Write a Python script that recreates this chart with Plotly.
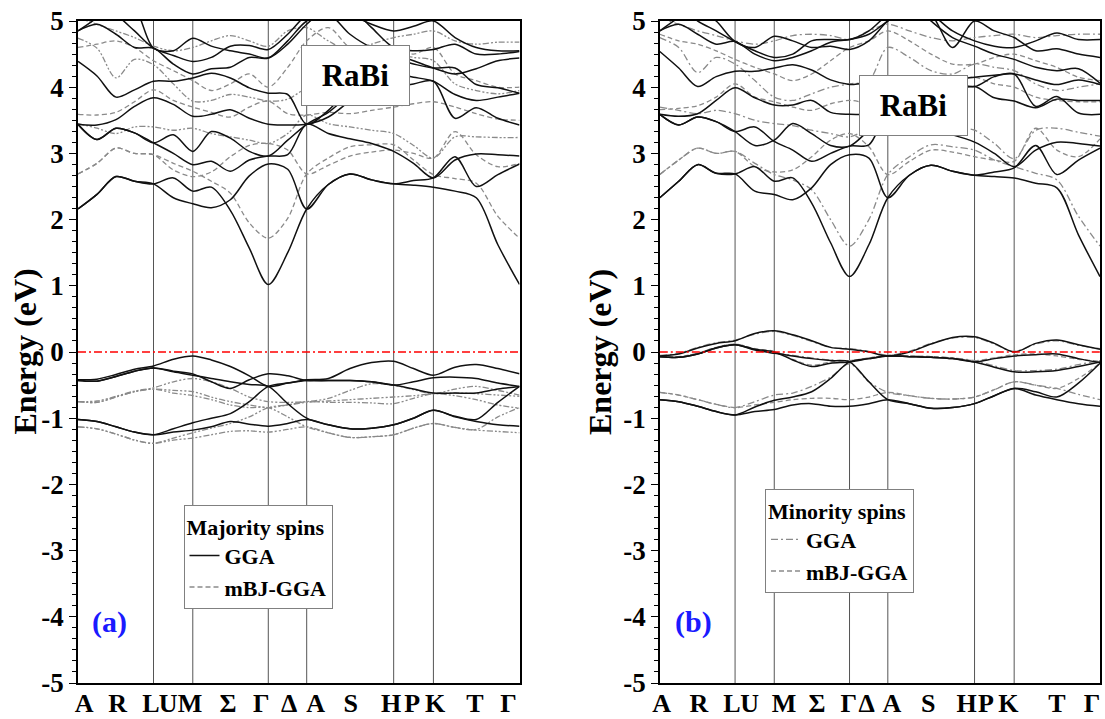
import plotly.graph_objects as go

SERIF = "Liberation Serif, Times New Roman, serif"

# ---------------- data ----------------
# k-path node positions (fraction of total path length)
k_nodes = [0.000, 0.043, 0.086, 0.128, 0.171, 0.216, 0.260, 0.302, 0.345, 0.388,
           0.431, 0.475, 0.518, 0.567, 0.616, 0.665, 0.715, 0.760, 0.805, 0.854,
           0.902, 0.951, 1.000]
# high-symmetry points drawn as vertical lines: L, M, Gamma, A, H, K
sym_points = [0.171, 0.260, 0.431, 0.518, 0.715, 0.805]

kpoint_labels = ["A", "R", "L", "U", "M", "Σ", "Γ", "Δ", "A", "S", "H", "P", "K", "T", "Γ"]
label_pos_a = [0.014, 0.090, 0.165, 0.204, 0.254, 0.340, 0.415, 0.478, 0.538,
               0.618, 0.709, 0.757, 0.809, 0.899, 0.975]
label_pos_b = [0.004, 0.089, 0.164, 0.204, 0.282, 0.357, 0.429, 0.470, 0.527,
               0.610, 0.697, 0.741, 0.792, 0.902, 0.982]

energy_ticks = [5, 4, 3, 2, 1, 0, -1, -2, -3, -4, -5]
energy_ticktext = ["5", "4", "3", "2", "1", "0", "-1", "-2", "-3", "-4", "-5"]

# (a) majority spins, GGA (black solid)
maj_gga_valence = [
    [-0.42, -0.41, -0.34, -0.26, -0.21, -0.11, -0.06, -0.12, -0.22, -0.36, -0.52, -0.47, -0.42, -0.40, -0.25, -0.16, -0.14, -0.25, -0.35, -0.23, -0.19, -0.25, -0.33],
    [-0.43, -0.44, -0.37, -0.29, -0.24, -0.29, -0.33, -0.45, -0.55, -0.42, -0.33, -0.36, -0.43, -0.43, -0.43, -0.45, -0.50, -0.45, -0.39, -0.38, -0.40, -0.47, -0.52],
    [-0.43, -0.44, -0.37, -0.29, -0.24, -0.30, -0.35, -0.40, -0.45, -0.49, -0.52, -0.78, -1.00, -1.10, -1.16, -1.15, -1.10, -1.00, -0.88, -0.97, -1.02, -0.76, -0.52],
    [-1.02, -1.05, -1.13, -1.21, -1.25, -1.21, -1.18, -1.13, -1.05, -1.09, -1.12, -1.08, -1.02, -1.10, -1.16, -1.15, -1.10, -1.00, -0.88, -0.98, -1.05, -1.10, -1.12],
    [-1.02, -1.05, -1.13, -1.21, -1.25, -1.16, -1.07, -1.00, -0.93, -0.75, -0.52, -0.47, -0.43, -0.43, -0.43, -0.45, -0.50, -0.56, -0.62, -0.62, -0.62, -0.56, -0.52],
]
maj_gga_conduction = [
    [2.16, 2.38, 2.65, 2.58, 2.54, 2.33, 2.24, 2.18, 2.30, 2.66, 2.84, 2.76, 2.16, 2.53, 2.69, 2.60, 2.54, 2.52, 2.49, 2.43, 2.33, 1.62, 1.02],
    [2.16, 2.38, 2.65, 2.58, 2.54, 2.63, 2.43, 2.49, 2.14, 1.57, 1.02, 1.50, 2.16, 2.53, 2.69, 2.60, 2.54, 2.59, 2.63, 2.95, 2.50, 2.68, 2.84],
    [3.44, 3.21, 3.38, 3.31, 3.16, 3.00, 2.83, 2.88, 2.73, 2.90, 2.96, 2.98, 3.44, 3.30, 3.22, 3.15, 3.03, 2.85, 2.63, 2.90, 2.99, 2.98, 2.96],
    [3.44, 3.21, 3.38, 3.31, 3.16, 3.28, 3.03, 3.33, 3.23, 3.03, 2.96, 3.20, 3.44, 3.62, 3.88, 4.00, 4.00, 4.05, 4.09, 3.53, 3.69, 3.53, 3.43],
    [4.39, 4.17, 3.85, 3.96, 4.09, 4.09, 4.14, 4.21, 4.14, 3.99, 3.91, 3.89, 3.44, 3.65, 4.00, 4.30, 4.43, 4.35, 4.29, 4.29, 4.04, 3.99, 3.91],
    [3.44, 3.43, 3.51, 3.71, 3.84, 3.74, 3.56, 3.59, 3.66, 3.53, 3.44, 3.43, 3.44, 3.55, 3.80, 4.10, 4.20, 4.15, 4.09, 3.89, 3.80, 3.85, 3.91],
    [4.85, 5.05, 5.30, 5.20, 4.59, 4.55, 4.74, 4.62, 4.55, 4.50, 4.44, 4.65, 4.95, 5.20, 5.10, 4.95, 4.85, 4.92, 5.00, 4.75, 4.60, 4.55, 4.55],
    [5.30, 5.30, 5.10, 4.85, 4.59, 4.48, 4.39, 4.45, 4.62, 4.63, 4.57, 4.80, 5.10, 5.30, 5.20, 4.90, 4.60, 4.55, 4.57, 4.65, 4.50, 4.50, 4.54],
    [4.85, 4.95, 4.80, 4.60, 4.59, 4.35, 4.20, 4.28, 4.30, 4.45, 4.44, 4.70, 5.00, 5.10, 4.80, 4.60, 4.50, 4.40, 4.29, 4.20, 4.28, 4.40, 4.44],
]
# (a) majority spins, mBJ-GGA (grey)
maj_mbj_valence = [
    [-0.75, -0.74, -0.67, -0.59, -0.54, -0.45, -0.40, -0.45, -0.55, -0.68, -0.75, -0.76, -0.75, -0.70, -0.58, -0.48, -0.50, -0.57, -0.63, -0.56, -0.52, -0.58, -0.65],
    [-0.75, -0.76, -0.68, -0.60, -0.56, -0.58, -0.60, -0.68, -0.75, -0.80, -0.84, -0.80, -0.75, -0.76, -0.76, -0.77, -0.78, -0.70, -0.63, -0.66, -0.72, -0.80, -0.85],
    [-0.75, -0.76, -0.68, -0.60, -0.56, -0.62, -0.66, -0.72, -0.80, -0.84, -0.84, -0.98, -1.13, -1.22, -1.29, -1.28, -1.25, -1.15, -1.08, -1.14, -1.17, -0.98, -0.84],
    [-1.13, -1.16, -1.24, -1.33, -1.38, -1.33, -1.30, -1.25, -1.20, -1.19, -1.21, -1.17, -1.13, -1.22, -1.29, -1.28, -1.25, -1.15, -1.08, -1.14, -1.18, -1.20, -1.22],
    [-1.13, -1.16, -1.24, -1.33, -1.38, -1.30, -1.22, -1.15, -1.08, -0.98, -0.84, -0.80, -0.76, -0.74, -0.72, -0.70, -0.68, -0.66, -0.63, -0.62, -0.63, -0.65, -0.67],
]
maj_mbj_conduction = [
    [2.69, 2.85, 3.08, 3.00, 2.98, 2.85, 2.73, 2.58, 2.40, 1.95, 1.72, 2.02, 2.69, 2.93, 3.10, 3.13, 3.13, 2.90, 2.68, 2.62, 2.55, 2.05, 1.72],
    [2.69, 2.85, 3.08, 3.00, 2.98, 2.75, 2.65, 2.72, 2.95, 3.12, 3.15, 3.05, 2.69, 2.82, 2.96, 3.02, 3.05, 3.00, 2.93, 3.33, 2.98, 2.80, 2.85],
    [3.45, 3.38, 3.30, 3.40, 3.40, 3.35, 3.38, 3.30, 3.25, 3.20, 3.15, 3.30, 3.58, 3.45, 3.40, 3.35, 3.30, 3.12, 2.93, 3.25, 3.25, 3.24, 3.24],
    [3.59, 3.58, 3.62, 3.78, 3.96, 3.80, 3.70, 3.62, 3.55, 3.70, 3.79, 3.60, 3.58, 3.62, 3.60, 3.65, 3.70, 3.75, 3.78, 3.70, 3.60, 3.52, 3.50],
    [4.74, 4.59, 4.14, 4.42, 4.34, 4.05, 3.79, 3.80, 3.89, 3.85, 3.79, 3.82, 4.00, 4.20, 4.30, 4.40, 4.50, 4.45, 4.40, 4.05, 3.95, 3.90, 3.95],
    [4.60, 4.65, 4.70, 4.60, 4.40, 4.25, 4.10, 3.95, 4.05, 4.20, 4.00, 4.30, 4.70, 4.90, 4.60, 4.55, 4.60, 4.50, 4.60, 4.20, 4.10, 4.00, 4.00],
    [5.05, 4.95, 4.85, 4.75, 4.62, 4.55, 4.60, 4.70, 4.78, 4.70, 4.62, 4.85, 4.90, 4.70, 4.55, 4.65, 4.75, 4.80, 4.85, 4.70, 4.65, 4.68, 4.68],
]

# (b) minority spins, solid black bands
min_solid_valence = [
    [-0.06, -0.03, 0.06, 0.13, 0.17, 0.28, 0.32, 0.26, 0.17, 0.07, 0.04, 0.00, -0.06, 0.00, 0.12, 0.22, 0.23, 0.13, 0.00, 0.13, 0.18, 0.11, 0.04],
    [-0.07, -0.08, -0.03, 0.06, 0.11, 0.04, 0.00, -0.12, -0.22, -0.17, -0.15, -0.10, -0.06, -0.07, -0.08, -0.10, -0.15, -0.10, -0.06, -0.04, -0.03, -0.10, -0.16],
    [-0.07, -0.08, -0.03, 0.06, 0.11, 0.03, -0.02, -0.06, -0.10, -0.13, -0.15, -0.45, -0.72, -0.78, -0.85, -0.84, -0.78, -0.66, -0.55, -0.60, -0.68, -0.47, -0.17],
    [-0.72, -0.75, -0.82, -0.90, -0.95, -0.90, -0.87, -0.80, -0.78, -0.82, -0.82, -0.78, -0.72, -0.78, -0.85, -0.84, -0.78, -0.66, -0.55, -0.65, -0.72, -0.78, -0.82],
    [-0.72, -0.75, -0.82, -0.90, -0.95, -0.83, -0.73, -0.68, -0.60, -0.40, -0.15, -0.10, -0.06, -0.07, -0.08, -0.10, -0.15, -0.23, -0.30, -0.30, -0.28, -0.22, -0.15],
]
min_solid_conduction = [
    [2.33, 2.58, 2.83, 2.70, 2.69, 2.43, 2.38, 2.30, 2.48, 2.83, 2.98, 2.93, 2.33, 2.67, 2.82, 2.73, 2.67, 2.65, 2.63, 2.55, 2.48, 1.77, 1.14],
    [2.33, 2.58, 2.83, 2.70, 2.69, 2.80, 2.58, 2.63, 2.25, 1.65, 1.14, 1.62, 2.33, 2.67, 2.82, 2.73, 2.67, 2.72, 2.78, 3.12, 2.68, 2.90, 3.08],
    [3.59, 3.43, 3.55, 3.48, 3.33, 3.40, 3.18, 3.05, 2.88, 3.00, 3.11, 3.13, 3.59, 3.45, 3.35, 3.28, 3.17, 3.00, 2.80, 3.05, 3.17, 3.15, 3.11],
    [3.59, 3.43, 3.55, 3.48, 3.33, 3.12, 3.20, 3.45, 3.30, 3.12, 3.11, 3.35, 3.59, 3.75, 3.95, 4.05, 4.01, 4.16, 4.20, 3.71, 3.86, 3.61, 3.59],
    [4.54, 4.29, 4.01, 4.16, 4.24, 4.24, 4.29, 4.34, 4.26, 4.11, 4.04, 4.04, 3.59, 3.70, 3.85, 3.95, 4.01, 3.84, 3.79, 3.69, 3.82, 3.80, 3.80],
    [3.59, 3.56, 3.60, 3.80, 3.99, 3.84, 3.73, 3.73, 3.80, 3.62, 3.59, 3.59, 3.59, 3.75, 3.95, 4.10, 4.15, 4.18, 4.20, 4.11, 4.04, 4.11, 4.04],
    [4.85, 5.05, 5.20, 5.00, 4.69, 4.60, 4.77, 4.70, 4.60, 4.62, 4.57, 4.70, 5.00, 5.20, 5.10, 4.85, 4.70, 4.62, 4.60, 4.70, 4.82, 4.72, 4.72],
    [5.30, 5.20, 5.00, 4.85, 4.69, 4.55, 4.45, 4.50, 4.70, 4.72, 4.72, 4.85, 5.10, 5.30, 5.00, 4.75, 4.62, 4.50, 4.42, 4.30, 4.25, 4.28, 4.06],
    [4.85, 4.95, 4.80, 4.65, 4.69, 4.50, 4.40, 4.45, 4.55, 4.68, 4.72, 4.80, 5.00, 5.20, 5.10, 4.60, 5.00, 4.85, 4.75, 4.55, 4.58, 4.50, 4.45],
]
# (b) minority spins, GGA (grey dash-dot)
min_gga_bands = [
    [-0.61, -0.65, -0.72, -0.79, -0.84, -0.75, -0.65, -0.62, -0.52, -0.38, -0.18, -0.45, -0.61, -0.66, -0.70, -0.71, -0.68, -0.57, -0.45, -0.50, -0.55, -0.64, -0.72],
    [-0.05, -0.02, 0.07, 0.14, 0.18, 0.27, 0.31, 0.25, 0.16, 0.07, 0.05, 0.01, -0.05, 0.01, 0.13, 0.21, 0.22, 0.12, 0.01, 0.12, 0.17, 0.10, 0.05],
    [-0.06, -0.07, -0.02, 0.07, 0.12, 0.04, -0.01, -0.05, -0.09, -0.12, -0.13, -0.09, -0.05, -0.06, -0.07, -0.09, -0.13, -0.21, -0.28, -0.28, -0.26, -0.19, -0.13],
    [2.68, 2.90, 3.08, 3.00, 3.03, 2.85, 2.68, 2.60, 2.45, 2.00, 1.60, 2.00, 2.68, 2.95, 3.13, 3.10, 3.05, 2.90, 2.80, 2.70, 2.60, 2.05, 1.60],
    [3.70, 3.65, 3.60, 3.65, 3.60, 3.50, 3.45, 3.42, 3.35, 3.30, 3.25, 3.40, 3.70, 3.55, 3.45, 3.40, 3.35, 3.15, 2.92, 3.35, 3.38, 3.32, 3.26],
    [4.75, 4.60, 4.22, 4.45, 4.35, 4.10, 3.85, 3.80, 3.90, 4.00, 4.05, 4.10, 4.60, 4.45, 4.25, 4.20, 4.35, 4.30, 4.25, 4.05, 3.95, 4.00, 4.05],
    [5.05, 4.95, 4.85, 4.78, 4.70, 4.65, 4.70, 4.78, 4.80, 4.78, 4.72, 4.85, 4.95, 4.85, 4.75, 4.70, 4.75, 4.78, 4.80, 4.75, 4.78, 4.80, 4.80],
]
# (b) minority spins, mBJ-GGA (grey dashed)
min_mbj_bands = [
    [-0.61, -0.65, -0.72, -0.79, -0.84, -0.80, -0.76, -0.72, -0.70, -0.70, -0.72, -0.68, -0.61, -0.66, -0.70, -0.71, -0.68, -0.57, -0.45, -0.50, -0.55, -0.40, -0.17],
    [-0.06, -0.07, -0.02, 0.07, 0.12, 0.05, 0.01, -0.11, -0.20, -0.15, -0.13, -0.09, -0.05, -0.06, -0.07, -0.09, -0.13, -0.09, -0.04, -0.03, -0.06, -0.11, -0.14],
    [2.68, 2.90, 3.08, 3.00, 3.03, 2.80, 2.72, 2.75, 2.95, 3.20, 3.30, 3.10, 2.68, 2.88, 3.05, 3.02, 2.95, 2.90, 2.88, 3.38, 3.05, 2.95, 3.22],
    [3.66, 3.68, 3.72, 3.85, 4.05, 3.85, 3.78, 3.70, 3.65, 3.75, 3.80, 3.75, 3.70, 3.85, 4.00, 4.10, 4.15, 4.05, 4.00, 3.85, 3.80, 3.78, 3.78],
    [4.80, 4.70, 4.65, 4.55, 4.42, 4.30, 4.20, 4.10, 4.20, 4.40, 4.60, 4.70, 4.85, 4.70, 4.50, 4.35, 4.35, 4.45, 4.50, 4.40, 4.30, 4.15, 4.10],
]

# ---------------- styling ----------------
BLACK = "#111111"
GREY = "#8a8a8a"
DASH = "5px,3px"
DASHDOT = "7px,3px,2px,3px"
DASHDOTDOT = "6px,2px,2px,2px,2px,2px"
W, H = 1105, 719

fig = go.Figure()


def add_band(y, xa, ya, color, width, dash, name=None, legend=None, rank=None):
    show = name is not None
    fig.add_trace(go.Scatter(
        x=k_nodes, y=y, xaxis=xa, yaxis=ya, mode="lines",
        line=dict(color=color, width=width, dash=dash, shape="spline", smoothing=0.9),
        name=name if show else "", showlegend=show,
        legend=legend if legend else "legend",
        legendrank=rank if rank else 1000, hoverinfo="skip"))


# panel (a): grey first, black on top
for i, band in enumerate(maj_mbj_conduction):
    d = DASH if i in (0, 1, 3, 5) else DASHDOTDOT
    add_band(band, "x", "y", GREY, 1.3, d,
             name="mBJ-GGA" if i == 0 else None, legend="legend", rank=2)
for band in maj_mbj_valence:
    add_band(band, "x", "y", GREY, 1.3, DASHDOTDOT)
for i, band in enumerate(maj_gga_valence + maj_gga_conduction):
    add_band(band, "x", "y", BLACK, 1.5, "solid",
             name="GGA" if i == 0 else None, legend="legend", rank=1)

# panel (b)
for i, band in enumerate(min_gga_bands):
    add_band(band, "x2", "y2", GREY, 1.3, DASHDOT,
             name="GGA" if i == 0 else None, legend="legend2", rank=1)
for i, band in enumerate(min_mbj_bands):
    add_band(band, "x2", "y2", GREY, 1.3, DASH,
             name="mBJ-GGA" if i == 0 else None, legend="legend2", rank=2)
for band in min_solid_valence + min_solid_conduction:
    add_band(band, "x2", "y2", BLACK, 1.5, "solid")

# vertical high-symmetry lines and Fermi level
shapes = []
for xa, ya in (("x", "y"), ("x2", "y2")):
    for kp in sym_points:
        shapes.append(dict(type="line", xref=xa, yref=ya + " domain", x0=kp, x1=kp,
                           y0=0, y1=1, line=dict(color="#555555", width=1), layer="below"))
    shapes.append(dict(type="line", xref=xa + " domain", yref=ya, x0=0, x1=1, y0=0, y1=0,
                       line=dict(color="#ff0000", width=1.5, dash="8px,3px,2px,3px"),
                       layer="above"))

minor_vals = [i / 6 for i in range(-30, 31) if i % 6 != 0]
ydom = [1 - 683 / H, 1 - 21 / H]

xcommon = dict(range=[0, 1], showline=True, linecolor="black", linewidth=1.5, mirror=True,
               ticks="", showgrid=False, zeroline=False, tickmode="array",
               ticktext=kpoint_labels, tickangle=0, automargin=False,
               ticklabelstandoff=-4,
               tickfont=dict(family=SERIF, size=26, color="black", weight="bold"))
ycommon = dict(range=[-5, 5], showline=True, linecolor="black", linewidth=1.5, mirror=True,
               showgrid=False, zeroline=False, tickmode="array", tickvals=energy_ticks,
               ticktext=energy_ticktext, ticks="outside", ticklen=7, tickwidth=1.3,
               tickcolor="black", automargin=False,
               minor=dict(tickmode="array", tickvals=minor_vals, ticks="outside",
                          ticklen=4, tickwidth=1, tickcolor="black"),
               tickfont=dict(family=SERIF, size=27, color="black", weight="bold"))

legend_common = dict(xanchor="left", yanchor="top", bgcolor="white", bordercolor="#808080",
                     borderwidth=1, itemwidth=30, tracegroupgap=0,
                     font=dict(family=SERIF, size=22, color="black", weight="bold"))

fig.update_layout(
    width=W, height=H, margin=dict(l=0, r=0, t=0, b=0, autoexpand=False),
    paper_bgcolor="white", plot_bgcolor="white",
    xaxis=dict(xcommon, domain=[78 / W, 519.5 / W], anchor="y", tickvals=label_pos_a),
    yaxis=dict(ycommon, domain=ydom, anchor="x"),
    xaxis2=dict(xcommon, domain=[659.8 / W, 1100 / W], anchor="y2", tickvals=label_pos_b),
    yaxis2=dict(ycommon, domain=ydom, anchor="x2"),
    legend=dict(legend_common, x=183.5 / W, y=1 - 505 / H,
                title=dict(text="Majority spins",
                           font=dict(family=SERIF, size=22, color="black", weight="bold"))),
    legend2=dict(legend_common, x=765 / W, y=1 - 489 / H,
                 title=dict(text="Minority spins",
                            font=dict(family=SERIF, size=22, color="black", weight="bold"))),
    shapes=shapes,
    showlegend=True,
)

annotations = [
    dict(text="RaBi", x=355.5 / W, y=1 - 75.5 / H, width=107, height=59),
    dict(text="RaBi", x=914 / W, y=1 - 106 / H, width=107, height=59),
]
for a in annotations:
    fig.add_annotation(text=a["text"], x=a["x"], y=a["y"], xref="paper", yref="paper",
                       xanchor="center", yanchor="middle",
                       showarrow=False, width=a["width"], height=a["height"],
                       bgcolor="white", bordercolor="#808080", borderwidth=1, borderpad=0,
                       font=dict(family=SERIF, size=31, color="black", weight="bold"))

for txt, xp in (("(a)", 110), ("(b)", 693)):
    fig.add_annotation(text=txt, x=xp / W, y=1 - 622 / H, xref="paper", yref="paper",
                       xanchor="center", yanchor="middle", showarrow=False,
                       font=dict(family=SERIF, size=30, color="#1a1aff", weight="bold"))

for xp in (24.5, 600):
    fig.add_annotation(text="Energy (eV)", x=xp / W, y=1 - 352 / H, xref="paper",
                       yref="paper", xanchor="center", yanchor="middle",
                       showarrow=False, textangle=-90,
                       font=dict(family=SERIF, size=32, color="black", weight="bold"))

fig.write_html("out.html")
